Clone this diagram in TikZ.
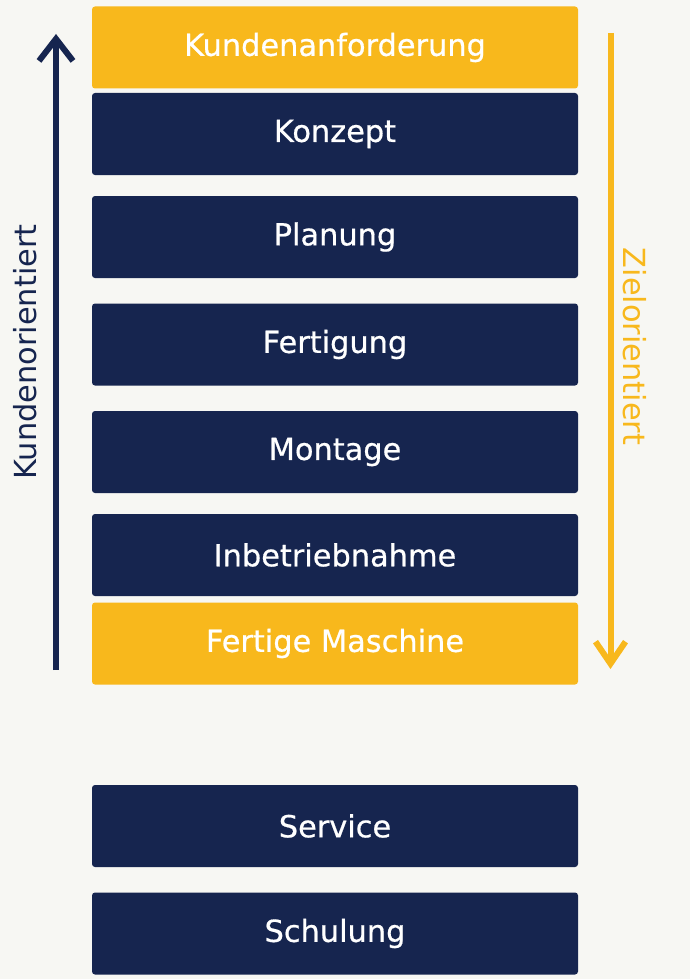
\documentclass[tikz,border=0pt]{standalone}
\usepackage{fontspec}
\setmainfont{DejaVu Sans}
\newfontfamily\stagefont[FakeBold=0.6]{DejaVu Sans}
\usetikzlibrary{arrows.meta}
\definecolor{navy}{HTML}{16254F}
\definecolor{gold}{HTML}{F8B81C}
\definecolor{paper}{HTML}{F7F7F3}
\tikzset{
  stage/.style={minimum width=486pt,minimum height=82pt,inner sep=0pt,
    rounded corners=3pt,text=white,font=\stagefont\fontsize{30.4}{36}\selectfont},
  navystage/.style={stage,fill=navy},
  goldstage/.style={stage,fill=gold},
  sidelabel/.style={anchor=base,inner sep=0pt,font=\fontsize{30.4}{36}\selectfont},
}
\begin{document}
\begin{tikzpicture}[x=1pt,y=-1pt]
\fill[paper](0,0)rectangle(690,979);
\useasboundingbox(0,0)rectangle(690,979);
%
\node[goldstage](kunden) at (335,47.5){Kundenanforderung};
\node[navystage](konzept) at (335,134){Konzept};
\node[navystage](planung) at (335,237){Planung};
\node[navystage](fertigung) at (335,344.5){Fertigung};
\node[navystage](montage) at (335,452){Montage};
\node[navystage](inbetrieb) at (335,555){Inbetriebnahme};
\node[goldstage](maschine) at (335,643.5){Fertige Maschine};
%
\node[navystage](service) at (335,826){Service};
\node[navystage](schulung) at (335,933.5){Schulung};
%
\coordinate(kundeunten) at (56,670);
\coordinate(kundeoben) at (56,34);
\coordinate(zieloben) at (610.5,33);
\coordinate(zielunten) at (610.5,669);
\draw[navy,line width=6pt,-{Straight Barb[length=22pt,width=34pt]}](kundeunten)--(kundeoben);
\draw[gold,line width=6pt,-{Straight Barb[length=22pt,width=30pt]}](zieloben)--(zielunten);
\node[sidelabel,navy,rotate=90](kundenlabel) at (36.7,352){Kundenorientiert};
\node[sidelabel,gold,rotate=-90](ziellabel) at (623,346.5){Zielorientiert};
\end{tikzpicture}
\end{document}
